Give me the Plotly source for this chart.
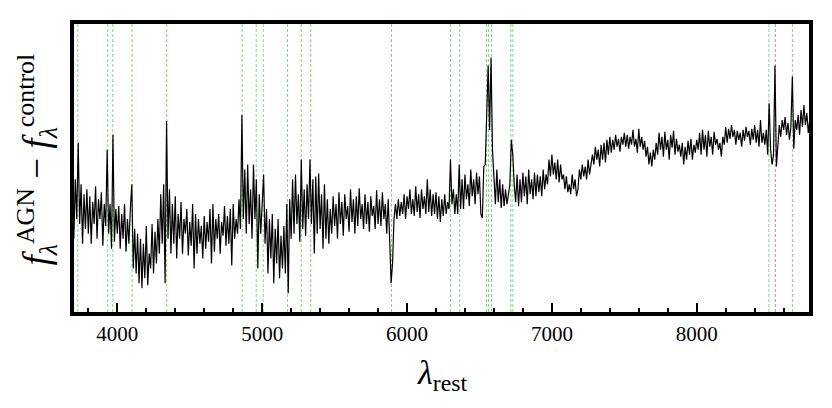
import plotly.graph_objects as go

# Rest-frame wavelength grid start / step (Angstrom)
wave_start = 3690
wave_step = 10

# Difference spectrum f_AGN - f_control (arbitrary units)
flux_diff = [
    125, 75, 135, 95, 172, 90, 130, 70, 120, 85,      # 3690-3780
    125, 80, 118, 70, 112, 90, 128, 75, 115, 95,      # 3790-3880
    122, 68, 110, 88, 165, 80, 110, 65, 180, 72,      # 3890-3980
    105, 80, 108, 65, 100, 75, 110, 62, 95, 70,       # 3990-4080
    105, 130, 45, 85, 40, 80, 30, 75, 25, 70,         # 4090-4180
    35, 88, 28, 60, 45, 90, 40, 82, 50, 95,           # 4190-4280
    60, 120, 70, 130, 30, 194, 75, 125, 60, 110,      # 4290-4380
    70, 118, 55, 100, 75, 112, 60, 95, 80, 105,       # 4390-4480
    58, 92, 68, 110, 45, 100, 60, 95, 70, 88,         # 4490-4580
    55, 98, 65, 92, 72, 105, 50, 110, 62, 95,         # 4590-4680
    75, 100, 60, 92, 78, 108, 68, 98, 70, 105,        # 4690-4780
    48, 110, 75, 95, 80, 115, 85, 200, 95, 145,       # 4790-4880
    80, 150, 90, 125, 75, 150, 95, 135, 45, 120,      # 4890-4980
    80, 110, 140, 70, 105, 40, 95, 55, 100, 30,       # 4990-5080
    85, 50, 95, 35, 78, 45, 88, 40, 110, 20,          # 5090-5180
    115, 75, 135, 80, 140, 90, 120, 72, 155, 85,      # 5190-5280
    125, 78, 130, 95, 155, 90, 135, 60, 138, 80,      # 5290-5380
    141, 85, 120, 65, 130, 75, 115, 70, 105, 80,      # 5390-5480
    118, 88, 110, 75, 122, 90, 112, 78, 120, 95,      # 5490-5580
    108, 82, 125, 92, 115, 80, 118, 88, 126, 95,      # 5590-5680
    110, 85, 120, 90, 112, 82, 118, 98, 108, 85,      # 5690-5780
    124, 90, 115, 88, 122, 95, 110, 80, 115, 75,      # 5790-5880
    30, 50, 95, 110, 95, 115, 98, 112, 100, 120,      # 5890-5980
    95, 118, 105, 125, 100, 115, 98, 128, 102, 120,   # 5990-6080
    96, 125, 105, 118, 100, 135, 102, 125, 98, 120,   # 6090-6180
    100, 122, 95, 118, 92, 115, 98, 120, 100, 112,    # 6190-6280
    105, 155, 110, 125, 100, 120, 100, 150, 105, 135, # 6290-6380
    105, 140, 115, 130, 108, 145, 118, 135, 110, 142, # 6390-6480
    120, 138, 100, 96, 148, 150, 195, 250, 185, 258,  # 6490-6580
    165, 140, 110, 145, 112, 135, 106, 130, 108, 125, # 6590-6680
    110, 120, 130, 175, 160, 130, 112, 140, 108, 135, # 6690-6780
    112, 142, 118, 138, 110, 145, 120, 135, 115, 142, # 6790-6880
    118, 140, 122, 138, 118, 145, 125, 140, 130, 155, # 6890-6980
    138, 160, 140, 152, 135, 155, 132, 150, 135, 140, # 6990-7080
    125, 138, 122, 130, 120, 140, 125, 135, 118, 125, # 7090-7180
    145, 135, 150, 138, 148, 135, 155, 140, 152, 160, # 7190-7280
    150, 168, 155, 165, 148, 170, 155, 172, 152, 175, # 7290-7380
    160, 178, 162, 175, 165, 180, 168, 176, 163, 178, # 7390-7480
    170, 182, 168, 180, 166, 178, 170, 185, 168, 176, # 7490-7580
    162, 186, 168, 178, 165, 174, 158, 168, 150, 162, # 7590-7680
    148, 165, 155, 172, 160, 182, 165, 178, 158, 183, # 7690-7780
    165, 175, 155, 180, 167, 184, 160, 176, 163, 170, # 7790-7880
    158, 172, 150, 168, 155, 174, 160, 176, 155, 170, # 7890-7980
    162, 175, 165, 182, 160, 185, 165, 180, 158, 184, # 7990-8080
    168, 178, 160, 183, 170, 176, 165, 172, 158, 178, # 8090-8180
    170, 188, 172, 186, 176, 190, 178, 185, 170, 184, # 8190-8280
    175, 182, 168, 185, 174, 188, 178, 184, 170, 186, # 8290-8380
    175, 190, 172, 185, 168, 195, 172, 182, 170, 185, # 8390-8480
    160, 212, 165, 150, 160, 250, 148, 175, 190, 178, # 8490-8580
    195, 185, 198, 180, 192, 175, 188, 239, 166, 195, # 8590-8680
    185, 200, 180, 205, 188, 210, 190, 202, 182, 195, # 8690-8780
    176,                                              # 8790
]
wavelength = [wave_start + wave_step * i for i in range(len(flux_diff))]

# Marked spectral lines (Angstrom)
green_lines = [3727, 3934, 3969, 4102, 4341, 4862, 4959, 5007, 5175, 5270,
               5335, 5893, 6300, 6364, 6548, 6563, 6583, 6717, 6731, 8498, 8662]
gray_lines = [8542]

x_range = [3701, 8775]
y_range = [1, 292]

fig = go.Figure()

shapes = []
for lam in green_lines:
    shapes.append(dict(type="line", xref="x", yref="paper", x0=lam, x1=lam, y0=0, y1=1,
                       line=dict(color="#7fd67f", width=1, dash="3px,2px"), layer="below"))
for lam in gray_lines:
    shapes.append(dict(type="line", xref="x", yref="paper", x0=lam, x1=lam, y0=0, y1=1,
                       line=dict(color="#9a9a9a", width=1, dash="3px,2px"), layer="below"))

fig.add_trace(go.Scatter(x=wavelength, y=flux_diff, mode="lines",
                         line=dict(color="black", width=1.2), showlegend=False,
                         hoverinfo="skip"))

serif = "Liberation Serif"
fig.update_layout(
    width=832, height=408,
    margin=dict(l=66, r=31, t=13, b=104),
    paper_bgcolor="white", plot_bgcolor="white",
    shapes=shapes,
    xaxis=dict(range=x_range, showline=True, linewidth=4, linecolor="black", mirror=True,
               ticks="inside", ticklen=9, tickwidth=2, tickcolor="black",
               tick0=0, dtick=1000, showgrid=False, zeroline=False,
               minor=dict(dtick=200, tick0=0, ticks="inside", ticklen=4, tickwidth=2,
                          tickcolor="black", showgrid=False),
               tickfont=dict(family=serif, size=21, color="black")),
    yaxis=dict(range=y_range, showline=True, linewidth=4, linecolor="black", mirror=True,
               ticks="", showticklabels=False, showgrid=False, zeroline=False),
    annotations=[
        dict(text="<i>λ</i><sub>rest</sub>", xref="paper", yref="paper",
             x=0.5, y=-0.22, xanchor="center", yanchor="middle", showarrow=False,
             font=dict(family=serif, size=34, color="black")),
        dict(text="<i>f</i><sub><i>λ</i></sub><sup>AGN</sup> − <i>f</i><sub><i>λ</i></sub><sup>control</sup>",
             xref="paper", yref="paper", x=-0.05, y=0.53, xanchor="center", yanchor="middle",
             textangle=-90, showarrow=False,
             font=dict(family=serif, size=37, color="black")),
    ],
)

fig.write_html("out.html")
